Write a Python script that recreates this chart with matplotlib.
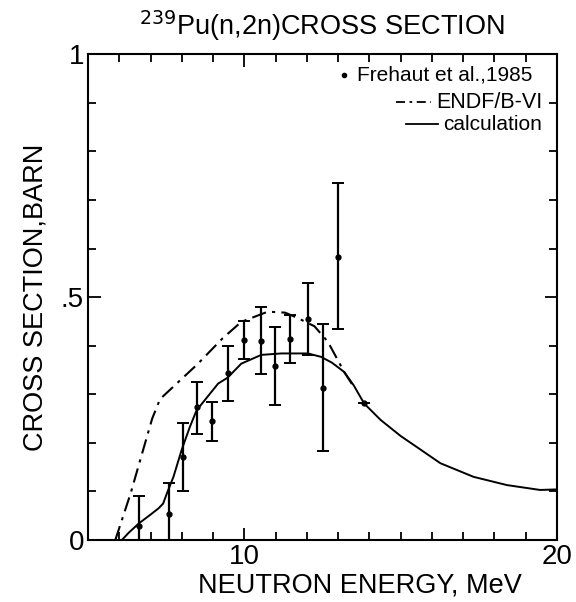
import matplotlib
matplotlib.use("Agg")
import matplotlib.pyplot as plt
import numpy as np

plt.rcParams['font.family'] = ['Liberation Sans', 'DejaVu Sans']

# Frehaut et al., 1985 data (energy MeV, cross section barn, lower/upper error)
exp_e = [6.63, 7.60, 8.02, 8.48, 8.97, 9.46, 9.99, 10.52, 10.98, 11.47, 12.02, 12.51, 12.98, 13.84]
exp_y = [0.029, 0.053, 0.170, 0.273, 0.244, 0.344, 0.412, 0.410, 0.358, 0.414, 0.455, 0.313, 0.582, 0.282]
exp_lo = [0.029, 0.053, 0.069, 0.055, 0.040, 0.057, 0.040, 0.069, 0.080, 0.050, 0.074, 0.130, 0.148, 0.0]
exp_hi = [0.062, 0.064, 0.070, 0.053, 0.041, 0.056, 0.039, 0.070, 0.080, 0.049, 0.075, 0.131, 0.153, 0.0]

# ENDF/B-VI evaluation
endf_e = [5.87, 6.36, 6.78, 7.05, 7.30, 8.50, 9.30, 9.90, 10.75, 11.30, 11.70, 12.24, 12.67, 13.04, 13.20, 13.50]
endf_y = [0.0, 0.096, 0.190, 0.250, 0.290, 0.362, 0.415, 0.449, 0.470, 0.468, 0.457, 0.440, 0.408, 0.364, 0.345, 0.315]

# calculation
calc_e = [6.08, 6.30, 6.62, 6.95, 7.25, 7.40, 7.52, 7.73, 7.99, 8.25, 8.47, 9.16, 9.46, 9.90, 10.54, 11.18, 12.03, 12.45,
          12.80, 13.19, 13.50, 13.83, 14.36, 15.00, 15.50, 16.27, 17.33, 18.40, 19.46, 19.94]
calc_y = [0.0, 0.015, 0.034, 0.050, 0.065, 0.075, 0.096, 0.130, 0.185, 0.232, 0.267, 0.322, 0.334, 0.363, 0.381, 0.384,
          0.384, 0.377, 0.365, 0.346, 0.318, 0.281, 0.247, 0.214, 0.192, 0.158, 0.130, 0.113, 0.103, 0.104]

dashdot = (0, (7, 3, 1.5, 3))

fig = plt.figure(figsize=(5.76, 6.02), dpi=100)
ax = fig.add_axes([0.153, 0.103, 0.814, 0.807])

ax.plot(endf_e, endf_y, color='black', lw=1.5, linestyle=dashdot)
ax.plot(calc_e, calc_y, color='black', lw=1.4)
ax.errorbar(exp_e, exp_y, yerr=[exp_lo, exp_hi], fmt='o', ms=3.5, color='black',
            ecolor='black', elinewidth=1.6, capsize=4, capthick=1.4)

ax.set_xlim(5, 20)
ax.set_ylim(0, 1)
ax.set_xticks([10, 20])
ax.set_xticklabels(['10', '20'])
ax.set_xticks(np.arange(6, 20, 1), minor=True)
ax.set_yticks([0, 0.5, 1])
ax.set_yticklabels(['0', '.5', '1'])
ax.set_yticks(np.arange(0.1, 1.0, 0.1), minor=True)
ax.tick_params(which='both', direction='in', top=True, right=True, width=1.3, labelsize=20, pad=3)
ax.tick_params(which='major', length=9)
ax.tick_params(which='minor', length=6)
for s in ax.spines.values():
    s.set_linewidth(1.5)

ax.set_xlabel('NEUTRON ENERGY, MeV', fontsize=19.5)
ax.xaxis.set_label_coords(0.58, -0.066)
ax.set_ylabel('CROSS SECTION,BARN', fontsize=19.5, labelpad=9)
fig.text(0.559, 0.957, r'$^{239}$Pu(n,2n)CROSS SECTION', fontsize=19.5, ha='center', va='center')

# legend drawn as text, as in the original figure
ax.plot([13.18], [0.957], 'o', ms=3, color='black')
ax.text(19.2, 0.957, 'Frehaut et al.,1985', fontsize=15, va='center', ha='right')
ax.plot([14.84, 15.96], [0.901, 0.901], color='black', lw=1.3, linestyle=(0, (5, 2.5, 1.5, 2.5)))
ax.text(19.55, 0.901, 'ENDF/B-VI', fontsize=15.5, va='center', ha='right')
ax.plot([15.16, 16.18], [0.856, 0.856], color='black', lw=1.3)
ax.text(19.52, 0.856, 'calculation', fontsize=15, va='center', ha='right')

fig.savefig('out.png', dpi=100)
